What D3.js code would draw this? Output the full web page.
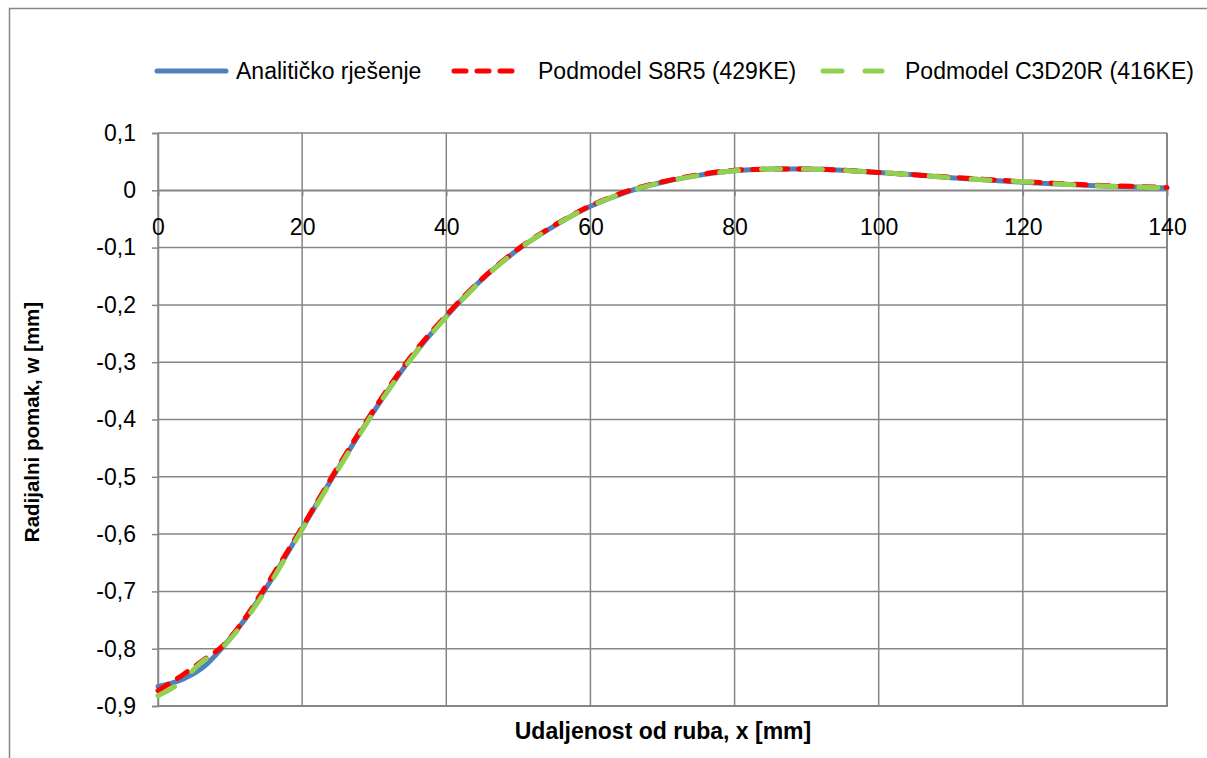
<!DOCTYPE html>
<html>
<head>
<meta charset="utf-8">
<script src="https://cdn.jsdelivr.net/npm/d3@7"></script>
<style>
  html, body { margin: 0; padding: 0; background: #fff; }
  svg { display: block; }
  text { font-family: "Liberation Sans", Arial, sans-serif; fill: #000; }
</style>
</head>
<body>
<svg id="chart" width="1207" height="758"></svg>
<script>
// ---- data ----
const seriesNames = ["Analitičko rješenje", "Podmodel S8R5 (429KE)", "Podmodel C3D20R (416KE)"];
const xTicks = [0, 20, 40, 60, 80, 100, 120, 140];
const yTicks = [0.1, 0, -0.1, -0.2, -0.3, -0.4, -0.5, -0.6, -0.7, -0.8, -0.9];
const xAnalytic = [0, 3.5, 6.5, 9, 12, 15, 20, 25, 30, 35, 40, 45, 50, 55, 60, 65, 70, 75, 80, 85, 90, 95, 100, 105, 110, 115, 120, 125, 130, 135, 140];
const wAnalytic = [-0.866, -0.853, -0.830, -0.797, -0.750, -0.694, -0.590, -0.485, -0.385, -0.295, -0.220, -0.155, -0.103, -0.062, -0.028, -0.003, 0.014, 0.026, 0.034, 0.037, 0.037, 0.035, 0.031, 0.027, 0.022, 0.018, 0.014, 0.011, 0.008, 0.006, 0.004];
const xS8R5 = [0, 3.5, 6.5, 9, 12, 15, 20, 25, 30, 35, 40, 45, 50, 55, 60, 65, 70, 75, 80, 85, 90, 95, 100, 105, 110, 115, 120, 125, 130, 135, 140];
const wS8R5 = [-0.873, -0.845, -0.818, -0.795, -0.748, -0.690, -0.588, -0.482, -0.382, -0.292, -0.218, -0.154, -0.102, -0.061, -0.027, -0.002, 0.015, 0.027, 0.035, 0.037, 0.037, 0.035, 0.031, 0.027, 0.023, 0.019, 0.015, 0.012, 0.009, 0.007, 0.005];
const xC3D20R = [0, 3, 6, 9, 12, 15, 20, 25, 30, 35, 40, 45, 50, 55, 60, 65, 70, 75, 80, 85, 90, 95, 100, 105, 110, 115, 120, 125, 130, 135, 140];
const wC3D20R = [-0.882, -0.860, -0.824, -0.797, -0.752, -0.697, -0.592, -0.487, -0.386, -0.296, -0.221, -0.156, -0.103, -0.062, -0.028, -0.003, 0.014, 0.026, 0.034, 0.037, 0.037, 0.035, 0.031, 0.027, 0.022, 0.018, 0.015, 0.011, 0.008, 0.006, 0.004];

const colors = ["#4F81BD", "#FF0000", "#92D050"];
const dashes = [null, "12,11", "19,23"];

// ---- layout ----
const svg = d3.select("#chart");
const L = 158, R = 1167, T = 133, B = 706;
const x = d3.scaleLinear().domain([0, 140]).range([L, R]);
const y = d3.scaleLinear().domain([-0.9, 0.1]).range([B, T]);
const grid = "#868686";
const fmt = d => d === 0 ? "0" : d3.format(".1f")(d).replace(".", ",").replace("−", "-");

// outer chart frame
svg.append("rect").attr("x", 9.5).attr("y", 8.5).attr("width", 1300).attr("height", 800)
  .attr("fill", "none").attr("stroke", grid).attr("stroke-width", 1.5);

// gridlines
const g = svg.append("g");
g.selectAll("line.h").data(yTicks).join("line")
  .attr("x1", L).attr("x2", R).attr("y1", d => y(d)).attr("y2", d => y(d))
  .attr("stroke", grid).attr("stroke-width", 1.5);
g.selectAll("line.v").data(xTicks).join("line")
  .attr("y1", T).attr("y2", B).attr("x1", d => x(d)).attr("x2", d => x(d))
  .attr("stroke", grid).attr("stroke-width", 1.5);
g.append("path").attr("d", `M${L},${B}H${R}V${T}`).attr("fill", "none")
  .attr("stroke", grid).attr("stroke-width", 2);

// y axis
const yAxis = d3.axisLeft(y).tickValues(yTicks).tickSize(6).tickPadding(16).tickFormat(fmt);
const ya = svg.append("g").attr("transform", `translate(${L},0)`).call(yAxis);
ya.select(".domain").attr("stroke", grid).attr("stroke-width", 1.5);
ya.selectAll(".tick line").attr("stroke", grid).attr("stroke-width", 1.5);
ya.selectAll(".tick text").style("font-size", "23px").style("font-family", "'Liberation Sans', Arial, sans-serif").attr("fill", "#000");

// x axis (at w = 0)
const xAxis = d3.axisBottom(x).tickValues(xTicks).tickSize(6).tickPadding(32).tickFormat(d3.format("d"));
const xa = svg.append("g").attr("transform", `translate(0,${y(0)})`).call(xAxis);
xa.select(".domain").attr("stroke", grid).attr("stroke-width", 1.5);
xa.selectAll(".tick line").attr("stroke", grid).attr("stroke-width", 1.5);
xa.selectAll(".tick text").style("font-size", "23px").style("font-family", "'Liberation Sans', Arial, sans-serif").attr("fill", "#000").attr("dy", "0.3em");

// series
const line = d3.line().x(d => x(d[0])).y(d => y(d[1])).curve(d3.curveMonotoneX);
const series = [
  d3.zip(xAnalytic, wAnalytic),
  d3.zip(xS8R5, wS8R5),
  d3.zip(xC3D20R, wC3D20R)
];
series.forEach((s, i) => {
  svg.append("path").datum(s).attr("d", line).attr("fill", "none")
    .attr("stroke", colors[i]).attr("stroke-width", 5)
    .attr("stroke-linecap", "round").attr("stroke-linejoin", "round")
    .attr("stroke-dasharray", dashes[i]);
});

// legend
const legendItems = [
  { x1: 157, x2: 226, tx: 236 },
  { x1: 454, x2: 513, tx: 538 },
  { x1: 823, x2: 882, tx: 905 }
];
const lg = svg.append("g");
legendItems.forEach((it, i) => {
  lg.append("line").attr("x1", it.x1).attr("x2", it.x2).attr("y1", 71).attr("y2", 71)
    .attr("stroke", colors[i]).attr("stroke-width", 5).attr("stroke-linecap", "round")
    .attr("stroke-dasharray", dashes[i]);
  lg.append("text").attr("x", it.tx).attr("y", 79).style("font-size", "23px").text(seriesNames[i]);
});

// axis titles
svg.append("text").attr("x", 663).attr("y", 739).attr("text-anchor", "middle")
  .style("font-size", "23px").style("font-weight", "bold").text("Udaljenost od ruba, x [mm]");
svg.append("text").attr("transform", "translate(39,422) rotate(-90)").attr("text-anchor", "middle")
  .style("font-size", "20.5px").style("font-weight", "bold").text("Radijalni pomak, w [mm]");
</script>
</body>
</html>
